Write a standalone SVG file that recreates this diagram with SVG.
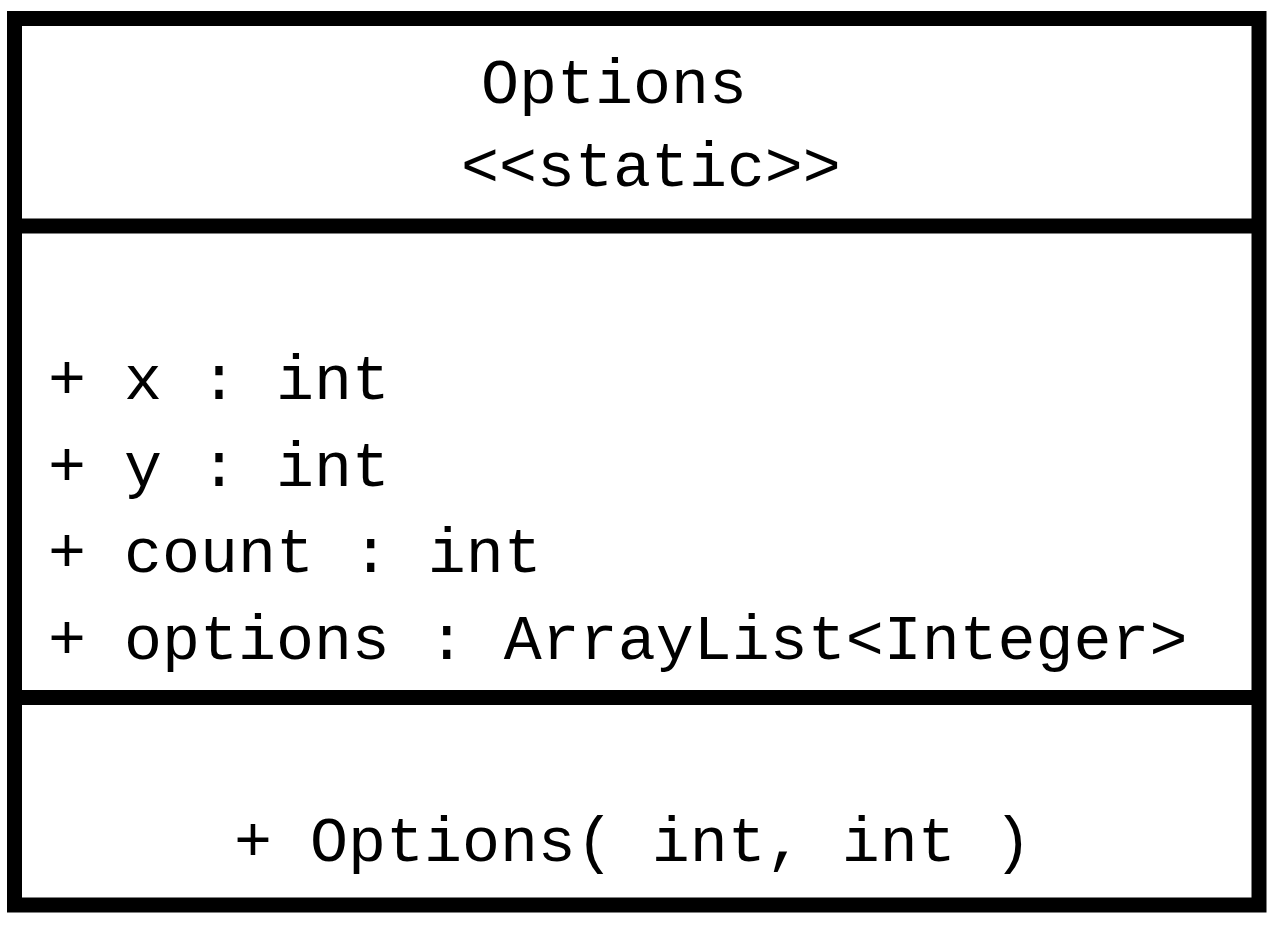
<svg xmlns="http://www.w3.org/2000/svg" width="1275" height="925" viewBox="0 0 1275 925">
  <style>
    .frame { fill: #ffffff; stroke: #000000; stroke-width: 15; stroke-linejoin: miter; }
    .div { stroke: #000000; stroke-width: 15; }
    .t { font-family: "Liberation Mono", "DejaVu Sans Mono", monospace; font-size: 63.3px; fill: #000000; }
  </style>
  <rect width="1275" height="925" fill="#ffffff"/>
  <g id="class-Options">
    <rect class="frame" x="14.5" y="18.5" width="1244.5" height="886.5"/>
    <line class="div" x1="14.5" y1="226" x2="1259" y2="226"/>
    <line class="div" x1="14.5" y1="697.5" x2="1259" y2="697.5"/>
    <text class="t" x="481" y="103">Options</text>
    <text class="t" x="461" y="186">&lt;&lt;static&gt;&gt;</text>
    <text class="t" x="48" y="399">+ x : int</text>
    <text class="t" x="48" y="486">+ y : int</text>
    <text class="t" x="48" y="572">+ count : int</text>
    <text class="t" x="48" y="659">+ options : ArrayList&lt;Integer&gt;</text>
    <text class="t" x="234" y="861">+ Options( int, int )</text>
  </g>
  <g id="connectors"/>
</svg>
